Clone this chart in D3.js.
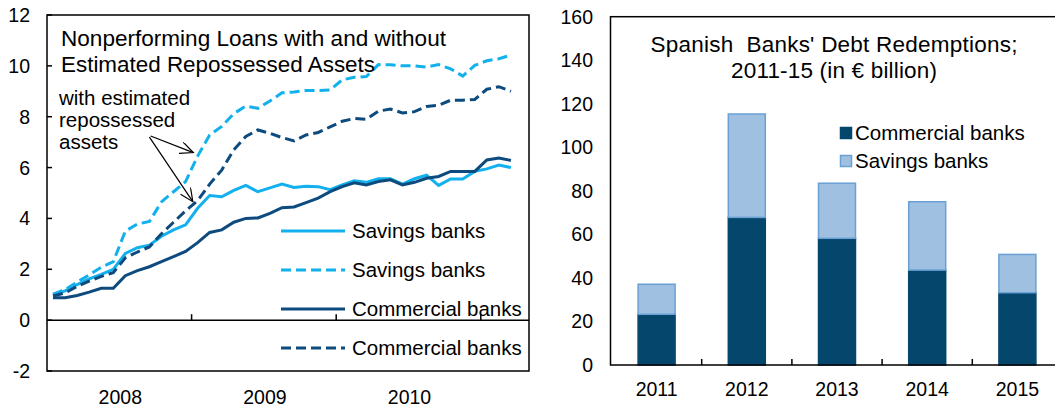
<!DOCTYPE html>
<html>
<head>
<meta charset="utf-8">
<script src="https://cdn.jsdelivr.net/npm/d3@7"></script>
<style>
body { margin: 0; background: #fff; }
svg { display: block; font-family: "Liberation Sans", Arial, sans-serif; }
</style>
</head>
<body>
<svg id="chart" width="1055" height="407"></svg>
<script>
/* Left panel: monthly NPL ratios, Jan 2008 - Mar 2011 (axis runs to Apr 2011). */
var months = d3.timeMonths(new Date(2008, 0, 1), new Date(2011, 4, 1));
var yearLabels = ["2008", "2009", "2010"];
var leftTicks = [-2, 0, 2, 4, 6, 8, 10, 12];

var savingsNpl = [1.0, 1.15, 1.4, 1.62, 1.8, 2.0, 2.62, 2.85, 2.95, 3.3, 3.55, 3.75,
    4.4, 4.9, 4.85, 5.1, 5.3, 5.05, 5.2, 5.35, 5.22, 5.27, 5.25, 5.13,
    5.32, 5.48, 5.42, 5.56, 5.56, 5.35, 5.56, 5.7, 5.3, 5.55, 5.55, 5.85,
    5.95, 6.1, 6.0];
var savingsRepo = [1.02, 1.2, 1.5, 1.78, 2.08, 2.3, 3.5, 3.78, 3.88, 4.65, 5.05, 5.45,
    6.45, 7.28, 7.62, 8.12, 8.42, 8.33, 8.62, 8.94, 8.97, 9.03, 9.03, 9.05,
    9.45, 9.55, 9.58, 10.05, 10.04, 10.0, 10.0, 9.95, 10.05, 9.88, 9.6, 10.02,
    10.2, 10.28, 10.42];
var commercialNpl = [0.88, 0.88, 0.97, 1.1, 1.25, 1.25, 1.75, 1.95, 2.1, 2.3, 2.5, 2.7,
    3.05, 3.45, 3.55, 3.85, 4.0, 4.02, 4.2, 4.42, 4.45, 4.62, 4.8, 5.05,
    5.25, 5.4, 5.32, 5.45, 5.52, 5.32, 5.42, 5.58, 5.65, 5.85, 5.85, 5.85,
    6.3, 6.38, 6.28];
var commercialRepo = [0.95, 1.07, 1.33, 1.53, 1.72, 1.87, 2.45, 2.68, 2.88, 3.4, 3.85, 4.3,
    4.7, 5.35, 5.9, 6.7, 7.22, 7.48, 7.35, 7.18, 7.05, 7.28, 7.38, 7.6,
    7.82, 7.93, 7.9, 8.22, 8.3, 8.15, 8.2, 8.4, 8.45, 8.65, 8.65, 8.68,
    9.08, 9.18, 9.0];

/* Right panel: debt redemptions, EUR billion. */
var redemptionYears = ["2011", "2012", "2013", "2014", "2015"];
var commercialRedemptions = [23.3, 67.8, 58.2, 43.6, 33.2];
var savingsRedemptions = [13.8, 47.5, 25.3, 31.4, 17.6];
var rightTicks = [0, 20, 40, 60, 80, 100, 120, 140, 160];

var lightBlue = "#12b0ec";
var darkBlue = "#0d4a7e";
var barDark = "#05466c";
var barLight = "#9fc0e1";
var barLightEdge = "#6aa0d3";

var svg = d3.select("#chart");

/* ---------- left chart ---------- */
var left = svg.append("g");
var x = d3.scaleBand().domain(d3.range(months.length)).range([47, 529]);
var y = d3.scaleLinear().domain([-2, 12]).range([371, 15]);
var mid = x.bandwidth() / 2;

left.append("rect")
    .attr("x", 47).attr("y", 15)
    .attr("width", 482).attr("height", 356)
    .attr("fill", "none").attr("stroke", "#000").attr("stroke-width", 1.5);

left.selectAll(".ytick").data(leftTicks).enter().append("line")
    .attr("x1", 47).attr("x2", 52)
    .attr("y1", function(d) { return y(d); })
    .attr("y2", function(d) { return y(d); })
    .attr("stroke", "#000").attr("stroke-width", 1.5);

left.selectAll(".ylab").data(leftTicks).enter().append("text")
    .attr("x", 30)
    .attr("y", function(d) { return y(d); })
    .attr("dy", "0.36em")
    .attr("text-anchor", "end")
    .attr("font-size", 19.5)
    .text(function(d) { return d; });

left.append("line")
    .attr("x1", 47).attr("x2", 529)
    .attr("y1", y(0)).attr("y2", y(0))
    .attr("stroke", "#000").attr("stroke-width", 1.5);

left.selectAll(".xtick").data([12, 24, 36]).enter().append("line")
    .attr("x1", function(d) { return x(d); })
    .attr("x2", function(d) { return x(d); })
    .attr("y1", y(0)).attr("y2", y(0) - 6)
    .attr("stroke", "#000").attr("stroke-width", 1.5);

left.selectAll(".xlab").data(yearLabels).enter().append("text")
    .attr("x", function(d, i) { return x(i * 12) + 6 * x.bandwidth() + 1; })
    .attr("y", 397)
    .attr("dy", "0.36em")
    .attr("text-anchor", "middle")
    .attr("font-size", 19.5)
    .text(function(d) { return d; });

var line = d3.line()
    .x(function(d, i) { return x(i) + mid; })
    .y(function(d) { return y(d); });

var series = [
    { name: "Savings banks", values: savingsNpl, color: lightBlue, dash: null },
    { name: "Savings banks", values: savingsRepo, color: lightBlue, dash: "10,5" },
    { name: "Commercial banks", values: commercialNpl, color: darkBlue, dash: null },
    { name: "Commercial banks", values: commercialRepo, color: darkBlue, dash: "10,5" }
];

left.selectAll(".series").data(series).enter().append("path")
    .attr("d", function(d) { return line(d.values); })
    .attr("fill", "none")
    .attr("stroke", function(d) { return d.color; })
    .attr("stroke-width", 3)
    .attr("stroke-dasharray", function(d) { return d.dash; });

/* legend */
var legendRows = [231, 270, 309, 348];
var lg = left.selectAll(".lg").data(series).enter().append("g");
lg.append("line")
    .attr("x1", 281).attr("x2", 345)
    .attr("y1", function(d, i) { return legendRows[i]; })
    .attr("y2", function(d, i) { return legendRows[i]; })
    .attr("stroke", function(d) { return d.color; })
    .attr("stroke-width", 3)
    .attr("stroke-dasharray", function(d) { return d.dash; });
lg.append("text")
    .attr("x", 352)
    .attr("y", function(d, i) { return legendRows[i]; })
    .attr("dy", "0.36em")
    .attr("font-size", 20.5)
    .text(function(d) { return d.name; });

/* title and annotation */
left.append("text").attr("x", 61).attr("y", 45.5).attr("font-size", 21.5)
    .attr("textLength", 385).attr("lengthAdjust", "spacingAndGlyphs")
    .text("Nonperforming Loans with and without");
left.append("text").attr("x", 61).attr("y", 71.5).attr("font-size", 21.5)
    .attr("textLength", 314).attr("lengthAdjust", "spacingAndGlyphs")
    .text("Estimated Repossessed Assets");

var noteLines = ["with estimated", "repossessed", "assets"];
left.selectAll(".note").data(noteLines).enter().append("text")
    .attr("x", 59)
    .attr("y", function(d, i) { return 105 + i * 22; })
    .attr("font-size", 20.5)
    .text(function(d) { return d; });

var arrows = [
    { from: [8.1, 7.24], to: [11.64, 6.59] },
    { from: [8.0, 7.2], to: [11.6, 4.66] }
];
svg.append("defs").append("marker")
    .attr("id", "arr")
    .attr("markerUnits", "userSpaceOnUse")
    .attr("markerWidth", 16).attr("markerHeight", 14)
    .attr("refX", 14).attr("refY", 6)
    .attr("orient", "auto")
    .append("path")
    .attr("d", "M1,0 L14,6 L1,12")
    .attr("fill", "none").attr("stroke", "#000").attr("stroke-width", 1.2);

left.selectAll(".arrow").data(arrows).enter().append("line")
    .attr("x1", function(d) { return x(0) + mid + d.from[0] * x.step(); })
    .attr("y1", function(d) { return y(d.from[1]); })
    .attr("x2", function(d) { return x(0) + mid + d.to[0] * x.step(); })
    .attr("y2", function(d) { return y(d.to[1]); })
    .attr("stroke", "#000").attr("stroke-width", 1.2)
    .attr("marker-end", "url(#arr)");

/* ---------- right chart ---------- */
var right = svg.append("g");
var xr = d3.scaleBand().domain(redemptionYears).range([611.5, 1062.5])
    .paddingInner(0.59).paddingOuter(0.295);
var yr = d3.scaleLinear().domain([0, 160]).range([365, 16.7]);

var table = redemptionYears.map(function(yr_, i) {
    return { year: yr_, commercial: commercialRedemptions[i], savings: savingsRedemptions[i] };
});
var stacked = d3.stack().keys(["commercial", "savings"])(table);
var fills = { commercial: barDark, savings: barLight };
var edges = { commercial: barDark, savings: barLightEdge };

right.selectAll(".layer").data(stacked).enter().append("g")
    .attr("fill", function(d) { return fills[d.key]; })
    .attr("stroke", function(d) { return edges[d.key]; })
    .attr("stroke-width", 1.5)
    .selectAll("rect").data(function(d) { return d; }).enter().append("rect")
    .attr("x", function(d) { return xr(d.data.year); })
    .attr("width", xr.bandwidth())
    .attr("y", function(d) { return yr(d[1]); })
    .attr("height", function(d) { return yr(d[0]) - yr(d[1]); });

right.append("rect")
    .attr("x", 610.5).attr("y", yr(160))
    .attr("width", 460).attr("height", yr(0) - yr(160))
    .attr("fill", "none").attr("stroke", "#000").attr("stroke-width", 1.5);

right.selectAll(".ylab").data(rightTicks).enter().append("text")
    .attr("x", 593)
    .attr("y", function(d) { return yr(d); })
    .attr("dy", "0.36em")
    .attr("text-anchor", "end")
    .attr("font-size", 19.5)
    .text(function(d) { return d; });

right.selectAll(".xtick").data(redemptionYears.slice(1)).enter().append("line")
    .attr("x1", function(d) { return xr(d) - xr.step() * xr.paddingInner() / 2; })
    .attr("x2", function(d) { return xr(d) - xr.step() * xr.paddingInner() / 2; })
    .attr("y1", yr(0)).attr("y2", yr(0) - 6)
    .attr("stroke", "#000").attr("stroke-width", 1.5);

right.selectAll(".xlab").data(redemptionYears).enter().append("text")
    .attr("x", function(d) { return xr(d) + xr.bandwidth() / 2; })
    .attr("y", 389)
    .attr("dy", "0.36em")
    .attr("text-anchor", "middle")
    .attr("font-size", 19.5)
    .text(function(d) { return d; });

right.append("text").attr("x", 834).attr("y", 51.5)
    .attr("text-anchor", "middle").attr("font-size", 22.5)
    .attr("textLength", 367)
    .style("white-space", "pre")
    .text("Spanish  Banks' Debt Redemptions;");
right.append("text").attr("x", 834).attr("y", 77.5)
    .attr("text-anchor", "middle").attr("font-size", 22.5)
    .attr("textLength", 206)
    .text("2011-15 (in € billion)");

var rLegend = [
    { key: "commercial", label: "Commercial banks", y: 133 },
    { key: "savings", label: "Savings banks", y: 161 }
];
var rl = right.selectAll(".rl").data(rLegend).enter().append("g");
rl.append("rect")
    .attr("x", 840.5).attr("width", 11).attr("height", 11)
    .attr("y", function(d) { return d.y - 5.5; })
    .attr("fill", function(d) { return fills[d.key]; })
    .attr("stroke", function(d) { return edges[d.key]; })
    .attr("stroke-width", 1.5);
rl.append("text")
    .attr("x", 855)
    .attr("y", function(d) { return d.y; })
    .attr("dy", "0.36em")
    .attr("font-size", 20.5)
    .text(function(d) { return d.label; });
</script>
</body>
</html>
